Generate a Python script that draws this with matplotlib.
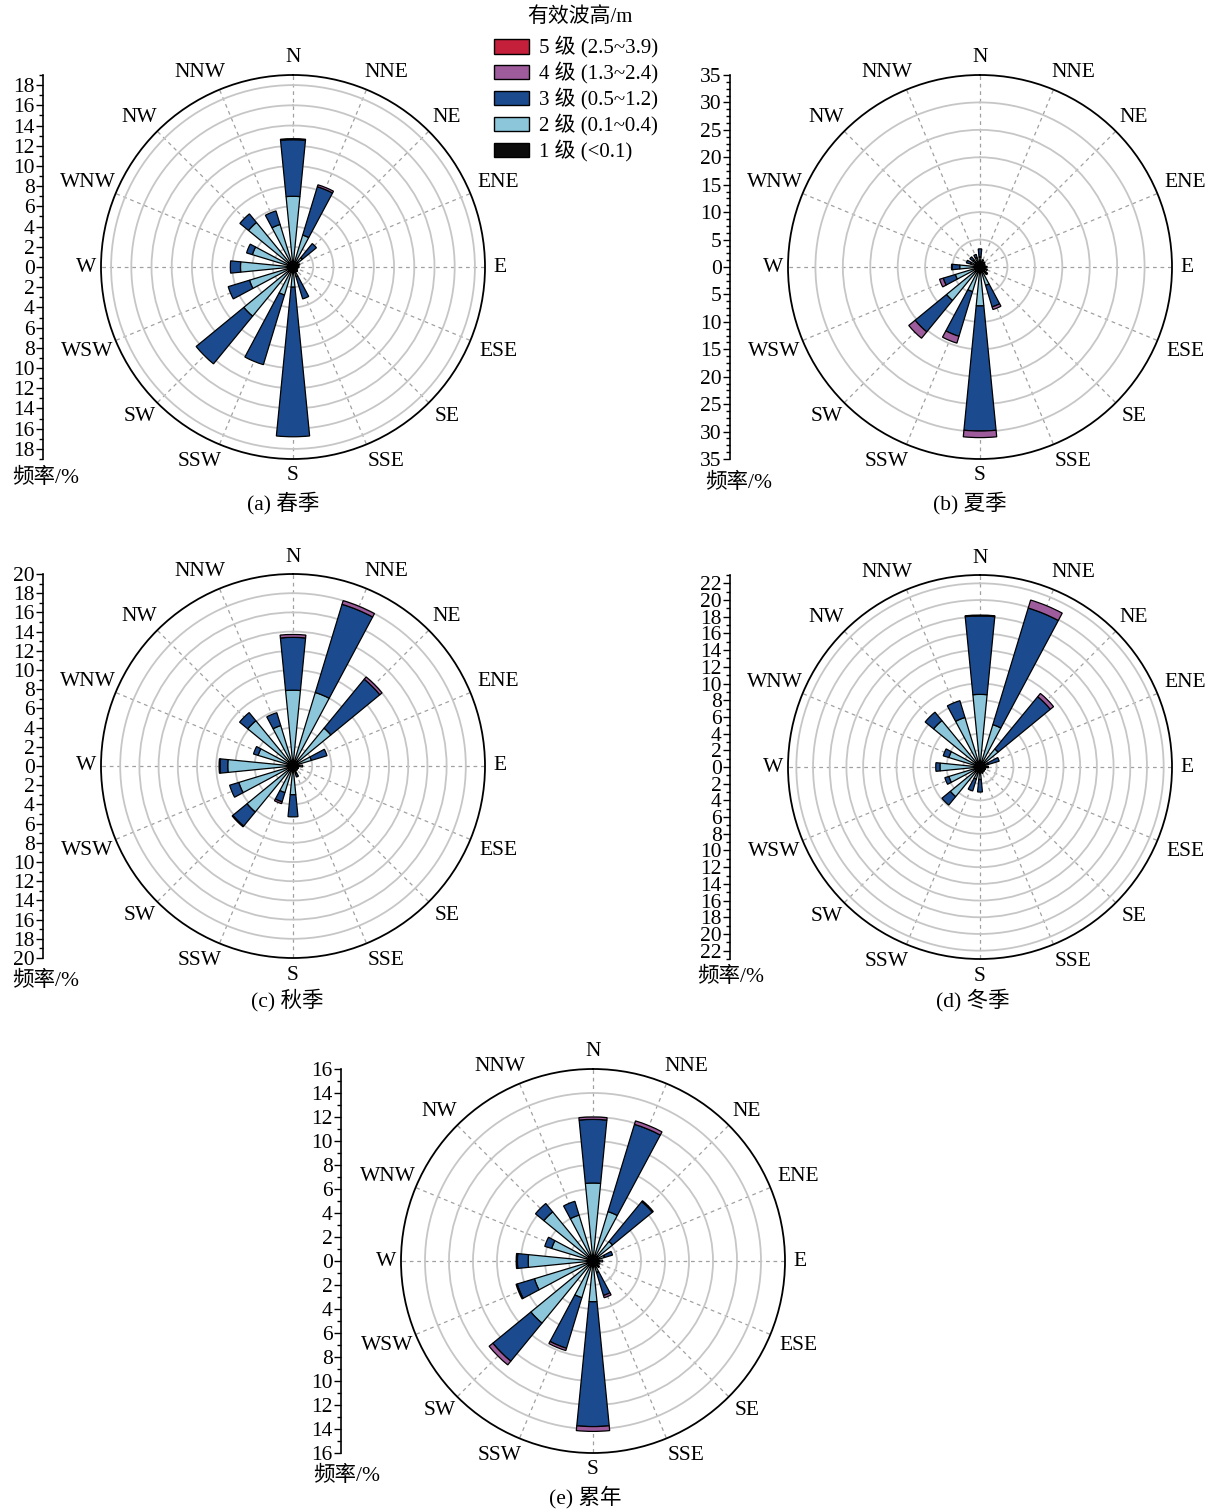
import numpy as np
import matplotlib
matplotlib.use('Agg')
import matplotlib.pyplot as plt
from matplotlib.ticker import MultipleLocator
from matplotlib.patches import Patch

plt.rcParams['font.family'] = ['Liberation Serif', 'Noto Sans CJK SC']
plt.rcParams['font.size'] = 15

W, H = 1213, 1512

directions = ['N', 'NNE', 'NE', 'ENE', 'E', 'ESE', 'SE', 'SSE',
              'S', 'SSW', 'SW', 'WSW', 'W', 'WNW', 'NW', 'NNW']
level_labels = ['1 级 (<0.1)', '2 级 (0.1~0.4)', '3 级 (0.5~1.2)',
                '4 级 (1.3~2.4)', '5 级 (2.5~3.9)']
level_colors = ['#0b0b0b', '#8cc6da', '#1b4b8e', '#9e5c9c', '#c41f3b']

# 各方向各等级频率 (%)，顺序 N, NNE, ..., NNW
spring_l1 = [0.5, 0.5, 0.5, 0.5, 0.5, 0.5, 0.5, 0.5, 0.5, 0.5, 0.5, 0.5, 0.5, 0.5, 0.5, 0.5]
spring_l2 = [6.5, 2.8, 0.7, 0.2, 0.1, 0.0, 0.1, 0.5, 1.5, 2.4, 5.8, 4.0, 4.7, 3.7, 5.2, 3.9]
spring_l3 = [5.6, 5.0, 1.8, 0.0, 0.0, 0.0, 0.0, 2.3, 14.8, 7.2, 6.1, 2.2, 1.0, 0.6, 1.1, 1.4]
spring_l4 = [0.1, 0.2, 0.0, 0.0, 0.0, 0.0, 0.0, 0.0, 0.0, 0.0, 0.0, 0.0, 0.0, 0.0, 0.0, 0.0]
spring_l5 = [0.0] * 16

summer_l1 = [1.0, 1.0, 1.0, 1.0, 1.0, 1.0, 1.0, 1.0, 1.0, 1.0, 1.0, 1.0, 1.0, 1.0, 1.0, 1.0]
summer_l2 = [0.8, 0.4, 0.2, 0.0, 0.3, 0.4, 0.5, 2.5, 6.1, 3.7, 6.9, 3.7, 2.7, 0.8, 0.6, 0.8]
summer_l3 = [1.5, 0.0, 0.0, 0.0, 0.0, 0.0, 0.3, 4.1, 22.8, 8.5, 7.4, 2.3, 1.4, 0.8, 0.8, 0.6]
summer_l4 = [0.0, 0.0, 0.0, 0.0, 0.0, 0.0, 0.0, 0.5, 1.2, 1.3, 1.5, 0.7, 0.1, 0.0, 0.0, 0.0]
summer_l5 = [0.0] * 16

autumn_l1 = [0.6, 0.6, 0.6, 0.6, 0.6, 0.6, 0.6, 0.6, 0.6, 0.6, 0.6, 0.6, 0.6, 0.6, 0.6, 0.6]
autumn_l2 = [7.3, 7.4, 4.5, 1.4, 0.4, 0.0, 0.0, 0.2, 2.4, 2.3, 5.6, 5.3, 6.2, 3.2, 5.5, 3.8]
autumn_l3 = [5.5, 9.6, 6.6, 1.7, 0.0, 0.0, 0.0, 0.4, 2.3, 1.0, 1.9, 1.0, 0.8, 0.5, 1.1, 1.4]
autumn_l4 = [0.3, 0.4, 0.3, 0.0, 0.0, 0.0, 0.0, 0.0, 0.0, 0.2, 0.1, 0.0, 0.1, 0.0, 0.0, 0.0]
autumn_l5 = [0.0] * 16

winter_l1 = [0.7, 0.7, 0.7, 0.7, 0.7, 0.7, 0.7, 0.7, 0.7, 0.7, 0.7, 0.7, 0.7, 0.7, 0.7, 0.7]
winter_l2 = [8.0, 4.6, 2.1, 0.3, 0.3, 0.0, 0.0, 0.1, 0.8, 0.8, 3.9, 3.2, 4.1, 3.2, 6.5, 5.5]
winter_l3 = [9.4, 14.6, 8.1, 1.4, 0.0, 0.0, 0.0, 0.0, 1.5, 1.5, 1.3, 0.5, 0.5, 0.7, 1.3, 2.1]
winter_l4 = [0.1, 1.0, 0.5, 0.0, 0.0, 0.0, 0.0, 0.0, 0.0, 0.0, 0.0, 0.0, 0.0, 0.0, 0.0, 0.0]
winter_l5 = [0.0] * 16

annual_l1 = [0.5, 0.5, 0.5, 0.5, 0.5, 0.5, 0.5, 0.5, 0.5, 0.5, 0.5, 0.5, 0.5, 0.5, 0.5, 0.5]
annual_l2 = [6.0, 3.8, 1.6, 0.5, 0.3, 0.1, 0.2, 0.5, 2.9, 2.7, 6.2, 4.6, 4.9, 3.1, 4.8, 3.5]
annual_l3 = [5.3, 7.6, 4.3, 0.7, 0.0, 0.0, 0.0, 2.0, 10.4, 4.4, 4.1, 1.5, 0.9, 0.6, 0.9, 1.2]
annual_l4 = [0.2, 0.3, 0.1, 0.0, 0.0, 0.0, 0.0, 0.2, 0.4, 0.2, 0.4, 0.1, 0.1, 0.0, 0.0, 0.0]
annual_l5 = [0.0] * 16

# 方位文字相对圆周点的偏移 (像素)，按偏离竖直方向 0/22.5/45/67.5/90 度取值
label_dx = [0, 20, 18, 28, 15]
label_dy = [17, 17, 14, 11.5, 0]


def px(x, y):
    return x / W, 1 - y / H


def draw_rose(fig, levels, cx, cy, rmax, step, minor, axis_x, label_xy, caption, caption_xy):
    R = 192
    rect = [(cx - R) / W, 1 - (cy + R) / H, 2 * R / W, 2 * R / H]
    ax = fig.add_axes(rect, projection='polar')
    ax.set_theta_zero_location('N')
    ax.set_theta_direction(-1)
    ax.set_ylim(0, rmax)

    theta = np.deg2rad(np.arange(16) * 22.5)
    width = np.deg2rad(11.25)
    bottom = np.zeros(16)
    for vals, col in zip(levels, level_colors):
        vals = np.asarray(vals, dtype=float)
        m = vals > 0
        ax.bar(theta[m], vals[m], width=width, bottom=bottom[m], color=col,
               edgecolor='black', linewidth=0.9, zorder=3)
        bottom += vals

    ax.set_xticks(theta)
    ax.set_xticklabels([])
    ax.set_xticks(theta + width, minor=True)
    ax.tick_params(axis='x', which='major', direction='in', length=5, width=1.0)
    ax.tick_params(axis='x', which='minor', direction='in', length=3.5, width=1.0)
    ax.set_yticks(np.arange(step, rmax - 0.01, step))
    ax.set_yticklabels([])
    ax.xaxis.grid(True, color='#a0a0a0', linestyle=(0, (3, 3)), linewidth=0.9)
    ax.yaxis.grid(True, color='#c6c6c6', linestyle='-', linewidth=1.3)
    ax.spines['polar'].set_linewidth(1.3)

    # 方位标注
    for i, (t, name) in enumerate(zip(theta, directions)):
        a = (i * 22.5) % 180
        k = int(round(min(a, 180 - a) / 22.5))
        s, c = np.sin(t), np.cos(t)
        dx = np.sign(round(s, 6)) * label_dx[k]
        dy = np.sign(round(c, 6)) * label_dy[k]
        ax.annotate(name, xy=(t, rmax), xytext=(dx, dy), textcoords='offset pixels',
                    ha='center', va='center', fontsize=15.5, annotation_clip=False)

    # 左侧频率刻度轴
    sa = fig.add_axes([axis_x / W, rect[1], 0.0005, rect[3]])
    sa.set_ylim(-rmax, rmax)
    top = step * int(rmax // step)
    ticks = np.arange(-top, top + 0.01, step)
    sa.set_yticks(ticks)
    sa.set_yticklabels([f'{abs(t):g}' for t in ticks])
    sa.yaxis.set_minor_locator(MultipleLocator(minor))
    sa.tick_params(axis='y', which='major', direction='out', length=5, width=1.0,
                   pad=1, labelsize=15.5)
    sa.tick_params(axis='y', which='minor', direction='out', length=3, width=1.0)
    sa.set_xticks([])
    for s in ['top', 'right', 'bottom']:
        sa.spines[s].set_visible(False)
    sa.spines['left'].set_linewidth(1.2)
    sa.patch.set_alpha(0)

    fig.text(*px(*label_xy), '频率/%', ha='left', va='center', fontsize=15.5)
    fig.text(*px(*caption_xy), caption, ha='center', va='center', fontsize=15.5)
    return ax


fig = plt.figure(figsize=(W / 100, H / 100), dpi=100)

draw_rose(fig, [spring_l1, spring_l2, spring_l3, spring_l4, spring_l5],
          293, 267, 19, 2, 1, 43, (12, 478), '(a) 春季', (283, 503))
draw_rose(fig, [summer_l1, summer_l2, summer_l3, summer_l4, summer_l5],
          980, 267, 35, 5, 1.25, 730, (705, 483), '(b) 夏季', (970, 503))
draw_rose(fig, [autumn_l1, autumn_l2, autumn_l3, autumn_l4, autumn_l5],
          293, 766, 20, 2, 1, 43, (12, 981), '(c) 秋季', (287, 1000))
draw_rose(fig, [winter_l1, winter_l2, winter_l3, winter_l4, winter_l5],
          980, 767, 23, 2, 1, 730, (697, 977), '(d) 冬季', (973, 1000))
draw_rose(fig, [annual_l1, annual_l2, annual_l3, annual_l4, annual_l5],
          593, 1261, 16, 2, 1, 341, (313, 1476), '(e) 累年', (585, 1497))

fig.text(*px(580, 17), '有效波高/m', ha='center', va='center', fontsize=15)
handles = [Patch(facecolor=c, edgecolor='black', linewidth=1.0) for c in level_colors]
leg = fig.legend(handles[::-1], level_labels[::-1], loc='upper left',
                 bbox_to_anchor=px(486, 28), frameon=False, fontsize=15,
                 handlelength=1.65, handleheight=0.72, labelspacing=0.19,
                 handletextpad=0.5, borderaxespad=0)

fig.savefig('out.png', dpi=100)
